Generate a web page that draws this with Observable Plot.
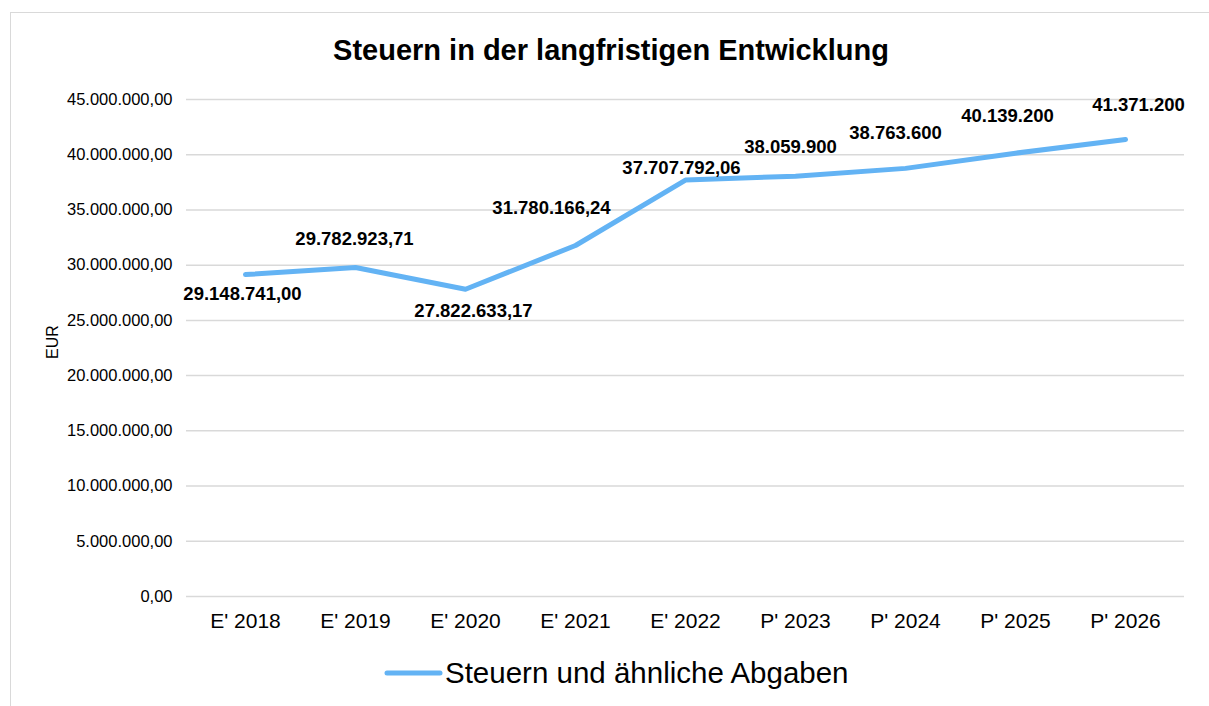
<!DOCTYPE html>
<html>
<head>
<meta charset="utf-8">
<script src="https://cdn.jsdelivr.net/npm/d3@7"></script>
<script src="https://cdn.jsdelivr.net/npm/@observablehq/plot@0.6"></script>
<style>
  html, body { margin: 0; padding: 0; background: #fff; }
  body { width: 1209px; height: 706px; position: relative; overflow: hidden; font-family: "Liberation Sans", Arial, sans-serif; }
  #frame { position: absolute; left: 10px; top: 12px; width: 1220px; height: 720px; border: 1.5px solid #d9d9d9; box-sizing: border-box; }
  #title { position: absolute; left: 0; width: 1222px; top: 33px; line-height: 34px; text-align: center; font-weight: bold; font-size: 29px; color: #000; }
  #chart { position: absolute; left: 0; top: 0; }
  #legend { position: absolute; left: 384px; top: 655px; height: 36px; display: flex; align-items: center; font-size: 29.5px; color: #000; }
  #legend svg { margin-right: 1px; }
</style>
</head>
<body>
<div id="frame"></div>
<div id="title">Steuern in der langfristigen Entwicklung</div>
<div id="chart"></div>
<div id="legend"></div>
<script>
const categories = ["E' 2018", "E' 2019", "E' 2020", "E' 2021", "E' 2022", "P' 2023", "P' 2024", "P' 2025", "P' 2026"];
const values = [29148741.00, 29782923.71, 27822633.17, 31780166.24, 37707792.06, 38059900, 38763600, 40139200, 41371200];
const seriesName = "Steuern und ähnliche Abgaben";
const yTicks = [0, 5000000, 10000000, 15000000, 20000000, 25000000, 30000000, 35000000, 40000000, 45000000];
const yLabel = "EUR";
// label offsets (dx, dy) relative to each point
const labelOffsets = [[-3, 20], [-1, -28], [8, 22], [-24, -37], [-4, -12], [-5, -29], [-10, -35], [-8, -37], [13, -34]];

const lineColor = "#63b3f4";
const de = d3.formatLocale({decimal: ",", thousands: ".", grouping: [3], currency: ["", " €"]});
const fmt2 = de.format(",.2f");
const fmt0 = de.format(",.0f");

const data = categories.map((c, i) => ({cat: c, value: values[i], label: c.startsWith("P'") ? fmt0(values[i]) : fmt2(values[i])}));

const labelMarks = data.map((d, i) => Plot.text([d], {
  x: "cat", y: "value", text: "label",
  dx: labelOffsets[i][0], dy: labelOffsets[i][1],
  fontWeight: "bold", fontSize: 18.5, fill: "#000"
}));

const chart = Plot.plot({
  width: 1209,
  height: 640,
  marginLeft: 186,
  marginRight: 25,
  marginTop: 99,
  marginBottom: 44,
  style: {fontFamily: "'Liberation Sans', Arial, sans-serif", background: "transparent", overflow: "visible"},
  x: {type: "point", domain: categories, padding: 0.5, label: null},
  y: {domain: [0, 45000000], label: null},
  marks: [
    Plot.gridY(yTicks, {stroke: "#d9d9d9", strokeOpacity: 1, strokeWidth: 1.5}),
    Plot.axisY(yTicks, {tickSize: 0, tickPadding: 14, tickFormat: fmt2, fontSize: 16.5, fill: "#000", label: null}),
    Plot.axisX({tickSize: 0, tickPadding: 17, fontSize: 21, fill: "#000", label: null}),
    Plot.text([yLabel], {frameAnchor: "left", dx: -134, rotate: -90, fontSize: 16, fill: "#000", y: () => 21500000}),
    Plot.line(data, {x: "cat", y: "value", stroke: lineColor, strokeWidth: 5, strokeLinecap: "round", strokeLinejoin: "round"}),
    ...labelMarks
  ]
});
document.getElementById("chart").appendChild(chart);

const legend = document.getElementById("legend");
legend.innerHTML = `<svg width="60" height="10"><line x1="3" y1="5" x2="56" y2="5" stroke="${lineColor}" stroke-width="5" stroke-linecap="round"/></svg><span>${seriesName}</span>`;
</script>
</body>
</html>
